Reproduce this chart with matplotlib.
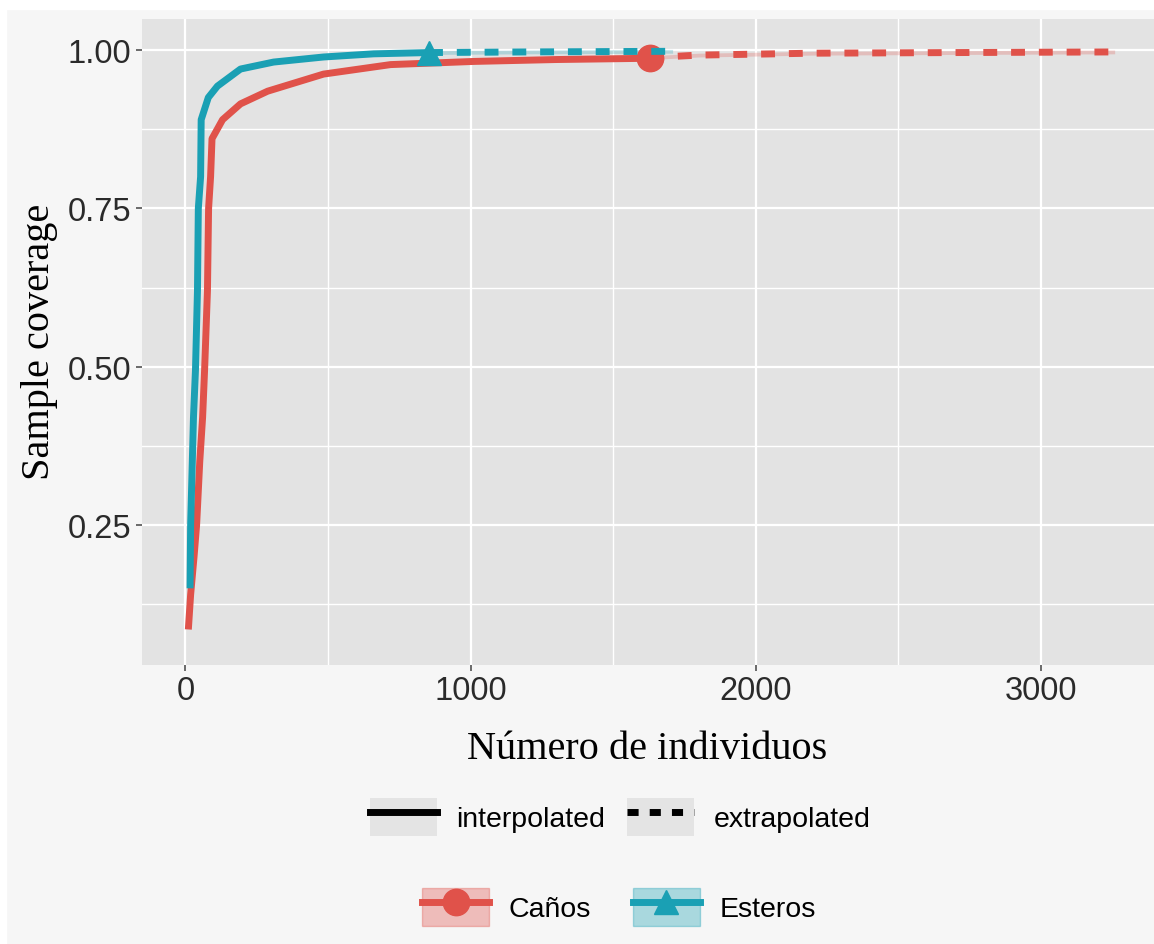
import matplotlib
matplotlib.use('Agg')
import matplotlib.pyplot as plt
from matplotlib.lines import Line2D
from matplotlib.patches import Patch, Rectangle

# datos
canos_n = [10, 18, 30, 39, 50, 60, 67, 77, 81, 88, 93, 130, 193, 288, 484, 719, 1011, 1300, 1629]
canos_cov = [0.085, 0.14, 0.20, 0.25, 0.35, 0.42, 0.495, 0.62, 0.75, 0.80, 0.86, 0.89, 0.915, 0.935,
             0.962, 0.977, 0.982, 0.985, 0.987]
canos_ext_n = [1629, 1800, 2200, 2700, 3258]
canos_ext_cov = [0.988, 0.992, 0.995, 0.996, 0.997]

esteros_n = [16, 18, 28, 35, 42, 45, 53, 55, 80, 112, 193, 309, 484, 660, 854]
esteros_cov = [0.15, 0.25, 0.42, 0.495, 0.62, 0.75, 0.80, 0.89, 0.925, 0.943, 0.970, 0.981, 0.989,
               0.994, 0.996]
esteros_ext_n = [854, 1200, 1708]
esteros_ext_cov = [0.996, 0.997, 0.998]

labels = ['Caños', 'Esteros']
x_ticks = [0, 1000, 2000, 3000]
y_ticks = [0.25, 0.50, 0.75, 1.00]

red = '#e0524a'
teal = '#1aa0b4'
sans = 'Liberation Sans'
serif = 'Liberation Serif'

fig = plt.figure(figsize=(11.54, 9.45), dpi=100, facecolor='#f6f6f6')
fig.patches.append(Rectangle((0, 1 - 10 / 945), 1, 10 / 945, transform=fig.transFigure,
                             color='white', zorder=0))
fig.patches.append(Rectangle((0, 0), 6 / 1154, 1, transform=fig.transFigure,
                             color='white', zorder=0))

ax = fig.add_axes([142 / 1154, 1 - 666 / 945, 1 - 142 / 1154, (666 - 20) / 945])
ax.set_facecolor('#e3e3e3')
for s in ax.spines.values():
    s.set_visible(False)

ax.set_xlim(-152.5, 3396)
ax.set_ylim(0.0289, 1.049)
ax.set_xticks(x_ticks)
ax.set_xticks([500, 1500, 2500], minor=True)
ax.set_yticks(y_ticks)
ax.set_yticks([0.125, 0.375, 0.625, 0.875], minor=True)
ax.set_yticklabels(['%.2f' % v for v in y_ticks])
ax.grid(True, which='major', color='white', lw=1.6)
ax.grid(True, which='minor', color='white', lw=1.0)
ax.set_axisbelow(True)
ax.tick_params(which='major', length=4.5, width=1.1, color='#444444', pad=3,
               labelsize=23.5, labelcolor='#2a2a2a')
ax.tick_params(which='minor', length=0)
for lab in ax.get_xticklabels() + ax.get_yticklabels():
    lab.set_family(sans)

# Caños
ax.fill_between(canos_ext_n, [c - 0.003 for c in canos_ext_cov],
                [c + 0.003 for c in canos_ext_cov], color=red, alpha=0.25, lw=0)
ax.plot(canos_n, canos_cov, color=red, lw=5, solid_capstyle='butt', zorder=3)
ax.plot(canos_ext_n, canos_ext_cov, color=red, lw=5, ls=(0, (2, 2)), dash_capstyle='butt', zorder=3)
ax.plot(canos_n[-1], canos_cov[-1], 'o', color=red, ms=19, zorder=4)

# Esteros
ax.fill_between(esteros_ext_n, [c - 0.003 for c in esteros_ext_cov],
                [c + 0.003 for c in esteros_ext_cov], color=teal, alpha=0.25, lw=0)
ax.plot(esteros_n, esteros_cov, color=teal, lw=5, solid_capstyle='butt', zorder=5)
ax.plot(esteros_ext_n, esteros_ext_cov, color=teal, lw=5, ls=(0, (2, 2)), dash_capstyle='butt', zorder=5)
ax.plot(esteros_n[-1], esteros_cov[-1], '^', color=teal, ms=17, zorder=6)

fig.text(647 / 1154, 1 - 750 / 945, 'Número de individuos', family=serif, size=29,
         ha='center', va='center')
fig.text(40 / 1154, 1 - 342 / 945, 'Sample coverage', family=serif, size=29,
         ha='center', va='center', rotation=90)

# leyendas
key_bg = '#e4e4e4'
h1 = [(Patch(facecolor=key_bg, edgecolor='none'), Line2D([], [], color='black', lw=5)),
      (Patch(facecolor=key_bg, edgecolor='none'),
       Line2D([], [], color='black', lw=5, ls=(0, (1.6, 1.6))))]
leg1 = fig.legend(h1, ['interpolated', 'extrapolated'], loc='center', ncol=2,
                  bbox_to_anchor=(620 / 1154, 1 - 818 / 945), frameon=False,
                  prop={'family': sans, 'size': 20.5}, handlelength=2.35, handleheight=1.7,
                  handletextpad=0.7, columnspacing=0.75)

h2 = [(Patch(facecolor=red, alpha=0.35, edgecolor=red),
       Line2D([], [], color=red, lw=5, marker='o', ms=19)),
      (Patch(facecolor=teal, alpha=0.35, edgecolor=teal),
       Line2D([], [], color=teal, lw=5, marker='^', ms=17))]
leg2 = fig.legend(h2, labels, loc='center', ncol=2,
                  bbox_to_anchor=(619 / 1154, 1 - 908 / 945), frameon=False,
                  prop={'family': sans, 'size': 20.5}, handlelength=2.35, handleheight=1.7,
                  handletextpad=0.7, columnspacing=1.45)

fig.savefig('out.png', dpi=100, facecolor=fig.get_facecolor())
